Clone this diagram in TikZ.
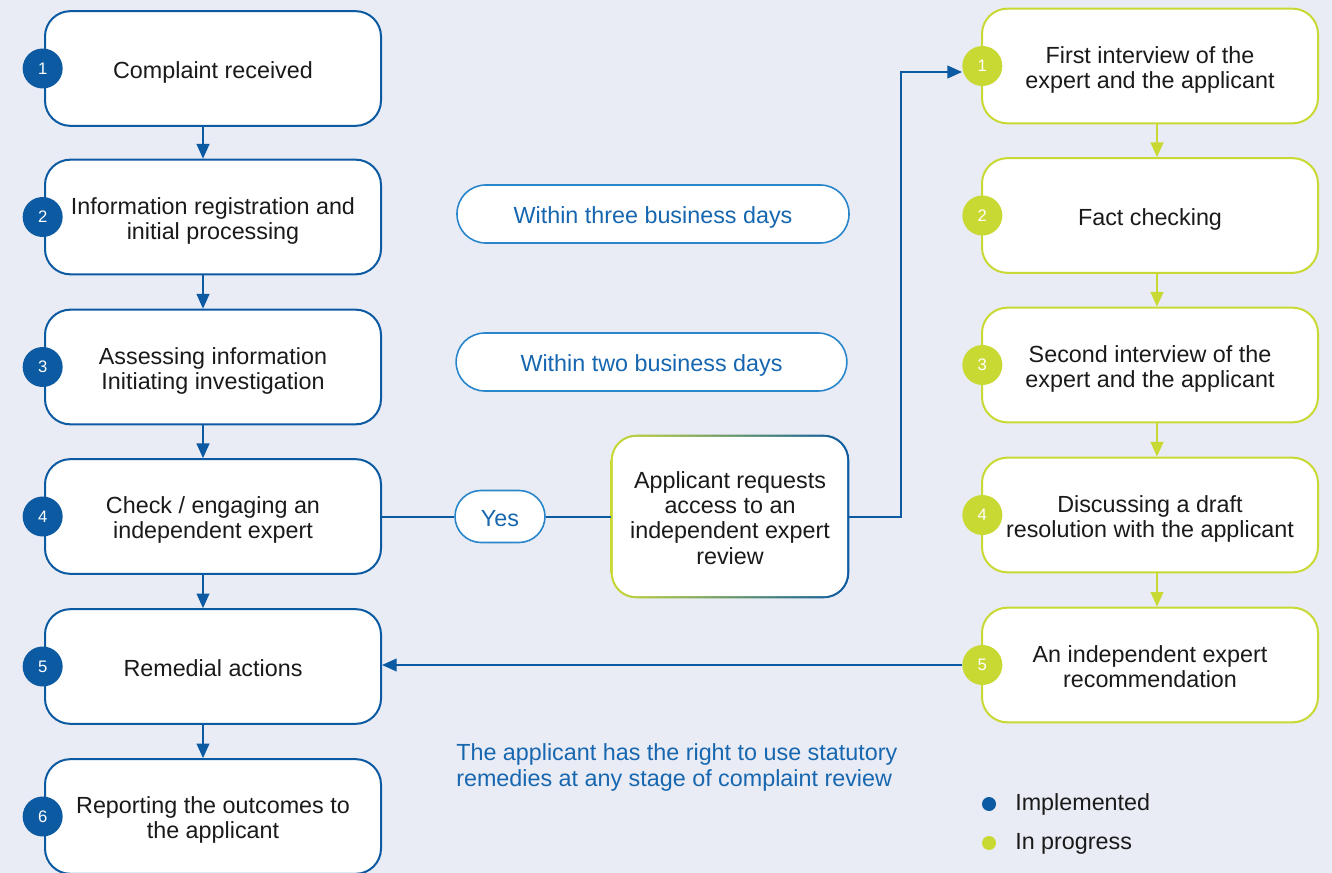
\documentclass[tikz,border=0pt]{standalone}
\usepackage{fontspec}
\setmainfont{Liberation Sans}
\usetikzlibrary{arrows.meta,calc}
\definecolor{bgc}{HTML}{E9ECF5}
\definecolor{dblue}{HTML}{0B5AA2}
\definecolor{lime}{HTML}{C9D934}
\definecolor{pblue}{HTML}{2A86CB}
\definecolor{tblue}{HTML}{1767B0}
\definecolor{midb}{HTML}{4FB0DC}
\definecolor{txt}{HTML}{1A1A1A}
\pgfdeclarelayer{back}
\pgfdeclarelayer{under}
\pgfsetlayers{back,under,main}
\newcommand{\bt}[1]{\raisebox{-3.6pt}[\height][\depth]{\begin{tabular}{@{}c@{}}#1\end{tabular}}}
\begin{document}
\begin{tikzpicture}[x=0.75pt,y=-0.75pt,
 font=\fontsize{17.5}{18.9}\selectfont,
 box/.style={draw, line width=1.5pt, fill=white, rounded corners=19pt, minimum width=252pt, minimum height=86pt, text=txt, inner sep=0pt},
 lbox/.style={box, draw=dblue},
 rbox/.style={box, draw=lime},
 num/.style={circle, minimum size=30pt, inner sep=0pt, text=white, font=\fontsize{12.5}{14}\selectfont},
 bnum/.style={num, fill=dblue},
 gnum/.style={num, fill=lime},
 pill/.style={draw=pblue, line width=1.2pt, fill=white, rounded corners=21.5pt, text=tblue, inner sep=0pt, minimum height=43.5pt},
 barr/.style={draw=dblue, line width=1.5pt, -{Triangle[length=11pt,width=9.5pt]}},
 garr/.style={draw=lime, line width=1.5pt, -{Triangle[length=11pt,width=9.5pt]}},
 bline/.style={draw=dblue, line width=1.5pt},
 dot/.style={circle, minimum size=10.5pt, inner sep=0pt},
]
\useasboundingbox (0,0) rectangle (1332,873);
\begin{pgfonlayer}{back}
\fill[bgc] (0,0) rectangle (1332,873);
\end{pgfonlayer}

% left column
\node[lbox] (b1) at (213,68.5) {\bt{Complaint received}};
\node[lbox] (b2) at (213,217) {\bt{Information registration and\\initial processing}};
\node[lbox] (b3) at (213,367) {\bt{Assessing information\\Initiating investigation}};
\node[lbox] (b4) at (213,516.5) {\bt{Check / engaging an\\independent expert}};
\node[lbox] (b5) at (213,666.5) {\bt{Remedial actions}};
\node[lbox] (b6) at (213,816.5) {\bt{Reporting the outcomes to\\the applicant}};
\foreach \i in {1,...,6}{\node[bnum] (n\i) at ([xshift=-1pt]b\i.west) {\i};}

\draw[barr] ([xshift=-7.5pt]b1.south) -- ([xshift=-7.5pt]b2.north);
\draw[barr] ([xshift=-7.5pt]b2.south) -- ([xshift=-7.5pt]b3.north);
\draw[barr] ([xshift=-7.5pt]b3.south) -- ([xshift=-7.5pt]b4.north);
\draw[barr] ([xshift=-7.5pt]b4.south) -- ([xshift=-7.5pt]b5.north);
\draw[barr] ([xshift=-7.5pt]b5.south) -- ([xshift=-7.5pt]b6.north);

% right column
\node[rbox] (r1) at (1150,66) {\bt{First interview of the\\expert and the applicant}};
\node[rbox] (r2) at (1150,215.5) {\bt{Fact checking}};
\node[rbox] (r3) at (1150,365) {\bt{Second interview of the\\expert and the applicant}};
\node[rbox] (r4) at (1150,515) {\bt{Discussing a draft\\resolution with the applicant}};
\node[rbox] (r5) at (1150,665) {\bt{An independent expert\\recommendation}};
\foreach \i in {1,...,5}{\node[gnum] (m\i) at ([xshift=1pt]r\i.west) {\i};}

\draw[garr] ([xshift=5.25pt]r1.south) -- ([xshift=5.25pt]r2.north);
\draw[garr] ([xshift=5.25pt]r2.south) -- ([xshift=5.25pt]r3.north);
\draw[garr] ([xshift=5.25pt]r3.south) -- ([xshift=5.25pt]r4.north);
\draw[garr] ([xshift=5.25pt]r4.south) -- ([xshift=5.25pt]r5.north);

% middle
\node[pill, minimum width=294pt] (p3) at (653,214) {\bt{Within three business days}};
\node[pill, minimum width=293pt] (p2) at (651.5,362) {\bt{Within two business days}};
\node[pill, minimum width=67.5pt, minimum height=39pt, rounded corners=19.5pt] (yes) at (500,516.5) {\bt{Yes}};

\node[minimum width=178.5pt, minimum height=122.25pt, inner sep=0pt, text=txt] (req) at (730,516.5) {\bt{Applicant requests\\access to an\\independent expert\\review}};
\begin{pgfonlayer}{under}
\shade[rounded corners=19pt, left color=lime, middle color=midb, right color=dblue] (req.north west) rectangle (req.south east);
\fill[white, rounded corners=17.5pt] ([shift={(1.6pt,-1.6pt)}]req.north west) rectangle ([shift={(-1.6pt,1.6pt)}]req.south east);
\end{pgfonlayer}

\draw[bline] (b4.east) -- (yes.west);
\draw[bline] (yes.east) -- (req.west);
\draw[barr] (req.east) -- ++(52,0) |- ([yshift=-4.5pt]m1.west);
\draw[barr] (m5.west) -- (m5.west -| b5.east);

% note
\node[anchor=west, align=left, text=tblue, inner sep=0pt, font=\fontsize{17.5}{19.5}\selectfont] (note) at (456,767) {The applicant has the right to use statutory\\remedies at any stage of complaint review};

% legend
\node[dot, fill=dblue] (d1) at (989,804) {};
\node[dot, fill=lime] (d2) at (989,843) {};
\node[anchor=west, inner sep=0pt, text=txt] (l1) at (1015,804) {Implemented};
\node[anchor=west, inner sep=0pt, text=txt] (l2) at (1015,844) {In progress};
\end{tikzpicture}
\end{document}
